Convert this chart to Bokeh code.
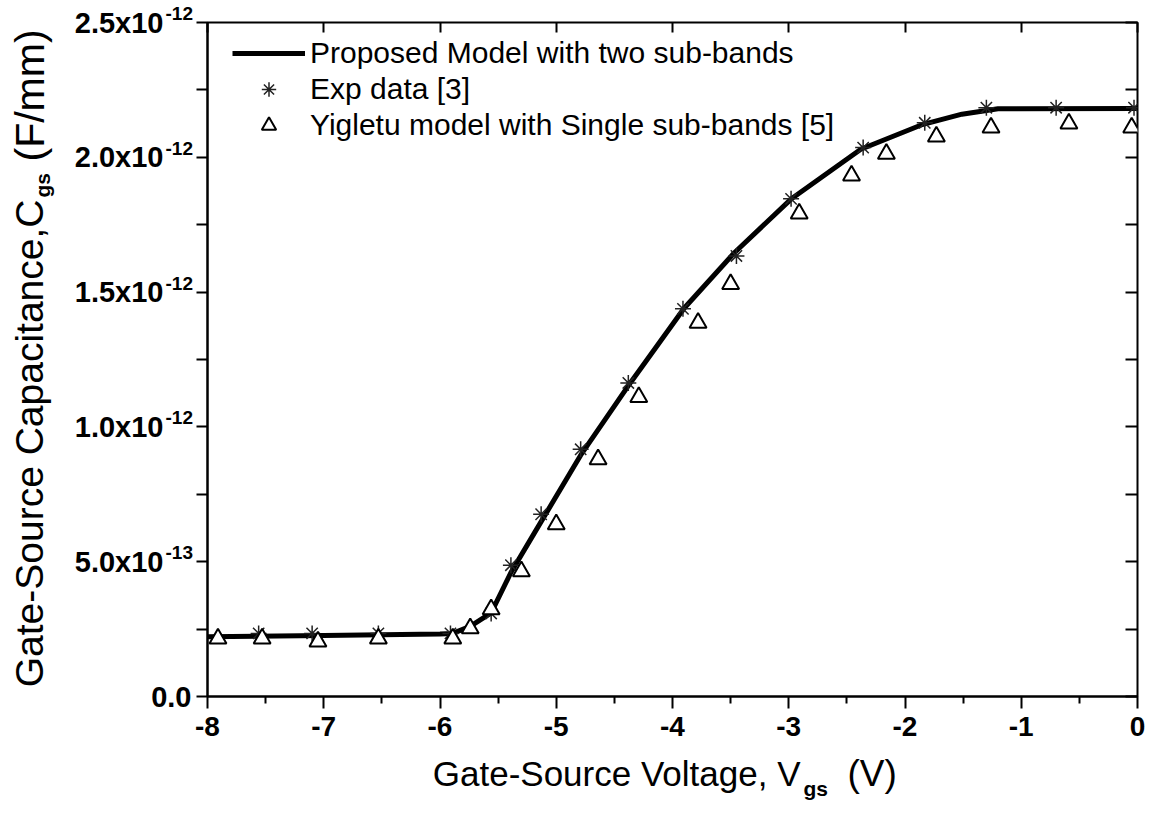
import numpy as np
from bokeh.plotting import figure
from bokeh.layouts import column, row
from bokeh.models import (Legend, LegendItem, LinearAxis, Range1d,
                          FixedTicker, CustomJSTickFormatter)
from bokeh.core.properties import value
from bokeh.embed import file_html
from bokeh.resources import INLINE

# Gate-source voltage (V) vs gate-source capacitance (F/mm)
model_vgs = [-8.0, -7.0, -6.0, -5.89, -5.74, -5.56, -5.39, -5.19, -4.79, -4.36,
             -3.90, -3.47, -2.98, -2.38, -1.86, -1.51, -1.20, 0.0]
model_cgs = np.array([0.222, 0.226, 0.232, 0.234, 0.260, 0.310, 0.460, 0.605, 0.895, 1.165,
                      1.440, 1.645, 1.845, 2.030, 2.120, 2.160, 2.180, 2.181]) * 1e-12

exp_vgs = [-7.56, -7.10, -6.53, -5.91, -5.56, -5.39, -5.13, -4.79, -4.38, -3.91,
           -3.45, -2.98, -2.36, -1.83, -1.30, -0.70, -0.03]
exp_cgs = np.array([0.234, 0.234, 0.234, 0.234, 0.308, 0.487, 0.676, 0.917, 1.163, 1.438,
                    1.634, 1.846, 2.036, 2.128, 2.184, 2.184, 2.184]) * 1e-12

yig_vgs = [-7.91, -7.53, -7.05, -6.53, -5.89, -5.74, -5.56, -5.30, -5.00, -4.64,
           -4.29, -3.78, -3.50, -2.91, -2.46, -2.16, -1.73, -1.26, -0.59, -0.05]
yig_cgs = np.array([0.215, 0.215, 0.204, 0.215, 0.215, 0.253, 0.323, 0.464, 0.639, 0.880,
                    1.111, 1.386, 1.530, 1.791, 1.932, 2.013, 2.077, 2.110, 2.125, 2.110]) * 1e-12

series_names = ["Proposed Model with two sub-bands",
                "Exp data [3]",
                "Yigletu model with Single sub-bands [5]"]

x_ticks = [-8, -7, -6, -5, -4, -3, -2, -1, 0]
x_tick_labels = ["-8", "-7", "-6", "-5", "-4", "-3", "-2", "-1", "0"]
y_ticks = [0.0, 0.5e-12, 1.0e-12, 1.5e-12, 2.0e-12, 2.5e-12]
y_minor = [0.25e-12, 0.75e-12, 1.25e-12, 1.75e-12, 2.25e-12]
y_tick_mantissa = ["0.0", "5.0x10", "1.0x10", "1.5x10", "2.0x10", "2.5x10"]
y_tick_exponent = ["", "-13", "-12", "-12", "-12", "-12"]

x_title = ["Gate-Source Voltage, V", "gs", "(V)"]
y_title = ["Gate-Source Capacitance,C", "gs", "(F/mm)"]

FONT = "Liberation Sans"
W, H = 1151, 816
LEFT_W = 194                 # side panel holding y tick labels and y title
TOP, FRAME_H, BOTTOM = 22, 674, 54
MAIN_H = TOP + FRAME_H + BOTTOM
TITLE_H = H - MAIN_H
Y0, Y1 = 0.0, 2.5e-12
PPU = FRAME_H / (Y1 - Y0)    # pixels per F/mm on the y scale
ROW_H = 36                   # legend row height


def styled(fig):
    fig.grid.visible = False
    fig.background_fill_color = "white"
    fig.border_fill_color = "white"
    return fig


# ---- main plot --------------------------------------------------------------
p = styled(figure(width=W - LEFT_W, height=MAIN_H, output_backend="svg", toolbar_location=None,
                  x_range=Range1d(-8, 0), y_range=Range1d(Y0, Y1), title=None,
                  min_border_left=207 - LEFT_W, min_border_right=14, min_border_top=TOP,
                  min_border_bottom=BOTTOM, x_axis_location=None, y_axis_location=None))
p.outline_line_color = "black"
p.outline_line_width = 2

blank = CustomJSTickFormatter(code="return ''")


def bare(axis):
    axis.major_label_text_font_size = "0px"
    axis.major_label_standoff = 0
    return axis


xb = LinearAxis(ticker=FixedTicker(ticks=x_ticks, minor_ticks=[v + 0.5 for v in x_ticks[:-1]]),
                major_label_overrides={t: s for t, s in zip(x_ticks, x_tick_labels)})
xb.axis_line_width = 2
xb.major_tick_line_width = 2
xb.minor_tick_line_width = 2
xb.major_tick_in, xb.major_tick_out = 0, 12
xb.minor_tick_in, xb.minor_tick_out = 0, 7
xb.major_label_standoff = 8
xb.major_label_text_font = FONT
xb.major_label_text_font_style = "bold"
xb.major_label_text_font_size = "28px"
xb.major_label_text_color = "black"
p.add_layout(xb, "below")

xt = bare(LinearAxis(ticker=FixedTicker(ticks=x_ticks), formatter=blank))
xt.axis_line_color = None
xt.major_tick_line_width = 2
xt.major_tick_in, xt.major_tick_out = 10, 0
xt.minor_tick_line_color = None
p.add_layout(xt, "above")

yl = bare(LinearAxis(ticker=FixedTicker(ticks=y_ticks, minor_ticks=y_minor), formatter=blank))
yl.axis_line_width = 2
yl.major_tick_line_width = 2
yl.minor_tick_line_width = 2
yl.major_tick_in, yl.major_tick_out = 0, 11
yl.minor_tick_in, yl.minor_tick_out = 0, 11
p.add_layout(yl, "left")

yr = bare(LinearAxis(ticker=FixedTicker(ticks=sorted(y_ticks + y_minor)), formatter=blank))
yr.axis_line_color = None
yr.major_tick_line_width = 2
yr.major_tick_in, yr.major_tick_out = 12, 0
yr.minor_tick_line_color = None
p.add_layout(yr, "right")

line_r = p.line(model_vgs, model_cgs, line_width=5, line_color="black", line_join="round")
exp_r = p.scatter(exp_vgs, exp_cgs, marker="asterisk", size=16,
                  line_color="#222222", line_width=1.5)
yig_r = p.scatter(yig_vgs, yig_cgs, marker="triangle", size=17,
                  fill_color="white", line_color="black", line_width=2)

# legend anchored by its lower-left corner, measured from the frame's lower-left;
# its top edge sits 13 px below the top of the frame
legend = Legend(items=[LegendItem(label=series_names[0], renderers=[line_r]),
                       LegendItem(label=series_names[1], renderers=[exp_r]),
                       LegendItem(label=series_names[2], renderers=[yig_r])],
                location=(25, FRAME_H - 13 - 3 * ROW_H))
legend.border_line_color = None
legend.background_fill_alpha = 0
legend.padding = 0
legend.margin = 0
legend.spacing = 0
legend.glyph_width = 73
legend.glyph_height = ROW_H
legend.label_height = ROW_H
legend.label_standoff = 5
legend.label_text_font = FONT
legend.label_text_font_size = "30px"
legend.label_text_color = "black"
p.add_layout(legend)

# ---- left panel: y tick labels on the plot's own y scale, and the y title ---
left = styled(figure(width=LEFT_W, height=MAIN_H, output_backend="svg", toolbar_location=None,
                     x_range=Range1d(0, LEFT_W), y_range=p.y_range, title=None,
                     min_border_left=0, min_border_right=0, min_border_top=TOP,
                     min_border_bottom=BOTTOM, x_axis_location=None, y_axis_location=None))
left.outline_line_color = None

mant_x = [191 if not e else 163 for e in y_tick_exponent]
left.text(x=mant_x, y=y_ticks, text=y_tick_mantissa, text_font=value(FONT),
          text_font_style="bold", text_font_size="29px", text_align="right",
          text_baseline="middle", text_color="black", level="overlay")
exp_idx = [i for i, e in enumerate(y_tick_exponent) if e]
left.text(x=[165] * len(exp_idx), y=[y_ticks[i] for i in exp_idx],
          text=[y_tick_exponent[i] for i in exp_idx], text_font=value(FONT),
          text_font_style="bold", text_font_size="19px", text_align="left",
          text_baseline="middle", y_offset=-9, text_color="black", level="overlay")


def y_at(py):
    """Canvas pixel row -> value on the shared y scale."""
    return Y0 + (TOP + FRAME_H - py) / PPU


left.text(x=[29], y=[y_at(199)], text=[y_title[0]], angle=np.pi / 2,
          text_font=value(FONT), text_font_size="39px", text_align="right",
          text_baseline="middle", text_color="black", level="overlay")
left.text(x=[42], y=[y_at(197)], text=[y_title[1]], angle=np.pi / 2,
          text_font=value(FONT), text_font_style="bold", text_font_size="21px",
          text_align="left", text_baseline="middle", text_color="black", level="overlay")
left.text(x=[29], y=[y_at(161)], text=[y_title[2]], angle=np.pi / 2,
          text_font=value(FONT), text_font_size="41px", text_align="left",
          text_baseline="middle", text_color="black", level="overlay")

# ---- bottom strip: x title (pixel coordinates, y pointing down) -------------
bottom = styled(figure(width=W, height=TITLE_H, output_backend="svg", toolbar_location=None,
                       x_range=Range1d(0, W), y_range=Range1d(TITLE_H, 0), title=None,
                       min_border=0, x_axis_location=None, y_axis_location=None))
bottom.outline_line_color = None
ty = 773 - MAIN_H
bottom.text(x=[800], y=[ty], text=[x_title[0]], text_font=value(FONT),
            text_font_size="35px", text_align="right", text_baseline="middle",
            text_color="black", level="overlay")
bottom.text(x=[803], y=[ty + 15], text=[x_title[1]], text_font=value(FONT),
            text_font_style="bold", text_font_size="21px", text_align="left",
            text_baseline="middle", text_color="black", level="overlay")
bottom.text(x=[847], y=[ty], text=[x_title[2]], text_font=value(FONT),
            text_font_size="37px", text_align="left", text_baseline="middle",
            text_color="black", level="overlay")

layout = column(row(left, p, spacing=0), bottom, spacing=0)
open("out.html", "w").write(file_html(layout, INLINE))
